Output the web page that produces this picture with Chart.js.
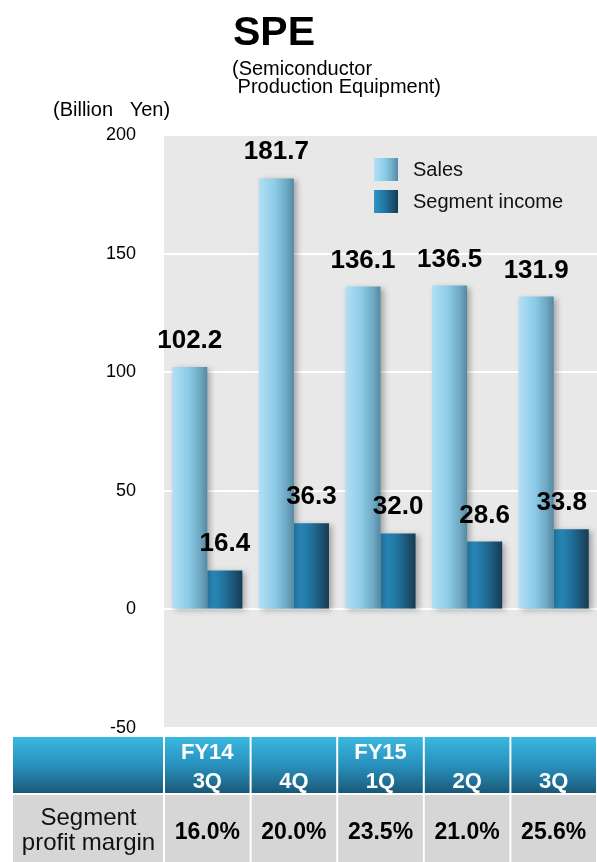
<!DOCTYPE html>
<html>
<head>
<meta charset="utf-8">
<script src="https://cdn.jsdelivr.net/npm/chart.js@4.4.1/dist/chart.umd.min.js"></script>
<style>
  html, body { margin: 0; padding: 0; background: #fff; overflow: hidden; }
  #wrap { position: relative; width: 597px; height: 862px; }
</style>
</head>
<body>
<div id="wrap"><canvas id="spe-chart" width="597" height="862"></canvas></div>
<script>
var quarters = [['FY14', '3Q'], ['4Q'], ['FY15', '1Q'], ['2Q'], ['3Q']];
var sales = [102.2, 181.7, 136.1, 136.5, 131.9];
var segment_income = [16.4, 36.3, 32.0, 28.6, 33.8];
var profit_margin = [16.0, 20.0, 23.5, 21.0, 25.6];
var y_ticks = [-50, 0, 50, 100, 150, 200];
var series_names = ['Sales', 'Segment income'];
var title_text = 'SPE';
var subtitle_lines = ['(Semiconductor', ' Production Equipment)'];
var unit_text = '(Billion   Yen)';
var margin_label = ['Segment', 'profit margin'];

var FONT = 'Arial, "Liberation Sans", sans-serif';
var sales_stops = [[0, '#b2e0f4'], [0.45, '#8dcce8'], [0.8, '#6ea7c1'], [1, '#5489a2']];
var income_stops = [[0, '#2c96ca'], [0.5, '#20709a'], [1, '#173b53']];

function hGradient(ctx, x0, x1, stops) {
  var g = ctx.createLinearGradient(x0, 0, x1, 0);
  stops.forEach(function (s) { g.addColorStop(s[0], s[1]); });
  return g;
}

var spePlugin = {
  id: 'speDecor',
  beforeDraw: function (chart) {
    var c = chart.ctx, a = chart.chartArea;
    c.save();
    c.fillStyle = '#e8e8e8';
    c.fillRect(a.left, a.top, a.right - a.left, a.bottom - a.top);
    c.restore();
  },
  beforeDatasetsDraw: function (chart) {
    var c = chart.ctx;
    chart.data.datasets.forEach(function (ds, di) {
      var stops = di === 0 ? sales_stops : income_stops;
      chart.getDatasetMeta(di).data.forEach(function (bar) {
        bar.options.backgroundColor = hGradient(c, bar.x - bar.width / 2, bar.x + bar.width / 2, stops);
      });
    });
    // soft shadow behind the bars
    c.save();
    c.shadowColor = 'rgba(0,0,0,0.3)';
    c.shadowBlur = 6;
    c.shadowOffsetX = 3;
    c.shadowOffsetY = 2;
  },
  afterDatasetsDraw: function (chart) {
    var c = chart.ctx, a = chart.chartArea;
    c.restore();
    c.save();
    c.font = 'bold 26px ' + FONT;
    c.fillStyle = '#000';
    c.textAlign = 'center';
    c.textBaseline = 'alphabetic';
    chart.data.datasets.forEach(function (ds, di) {
      chart.getDatasetMeta(di).data.forEach(function (bar, i) {
        var txt = ds.data[i].toFixed(1);
        var w = c.measureText(txt).width;
        // keep labels from running off the right edge
        var x = Math.min(bar.x, a.right - 10 - w / 2);
        c.fillText(txt, x, bar.y - 19);
      });
    });
    c.restore();
  },
  afterDraw: function (chart) {
    var c = chart.ctx, a = chart.chartArea, xs = chart.scales.x;
    c.save();

    // titles
    c.fillStyle = '#000';
    c.textAlign = 'left';
    c.textBaseline = 'alphabetic';
    c.font = 'bold 41px ' + FONT;
    c.fillText(title_text, 233, 45);
    c.font = '20px ' + FONT;
    c.fillText(subtitle_lines[0], 232, 75);
    c.fillText(subtitle_lines[1], 232, 93);
    c.fillText(unit_text, 53, 116);

    // legend
    var ly = [158, 190];
    series_names.forEach(function (name, i) {
      c.fillStyle = hGradient(c, 374, 398, i === 0 ? sales_stops : income_stops);
      c.fillRect(374, ly[i], 24, 23);
      c.fillStyle = '#111';
      c.font = '20px ' + FONT;
      c.textBaseline = 'middle';
      c.fillText(name, 413, ly[i] + 12);
    });

    // table under the chart
    var headTop = 737, headBot = 793, rowTop = 795, rowBot = 862;
    var half = (xs.getPixelForTick(1) - xs.getPixelForTick(0)) / 2;
    var hg = c.createLinearGradient(0, headTop, 0, headBot);
    hg.addColorStop(0, '#3ab8df');
    hg.addColorStop(0.5, '#2891be');
    hg.addColorStop(0.92, '#1d6384');
    hg.addColorStop(1, '#1a5575');

    var cols = [[13, a.left - 1]];
    quarters.forEach(function (q, i) {
      var cx = xs.getPixelForTick(i);
      cols.push([cx - half + 1, cx + half - 1]);
    });
    cols.forEach(function (col) {
      c.fillStyle = hg;
      c.fillRect(col[0], headTop, col[1] - col[0], headBot - headTop);
      c.fillStyle = '#d6d6d6';
      c.fillRect(col[0], rowTop, col[1] - col[0], rowBot - rowTop);
    });

    c.textAlign = 'center';
    c.textBaseline = 'alphabetic';
    quarters.forEach(function (q, i) {
      var cx = xs.getPixelForTick(i);
      c.fillStyle = '#fff';
      c.font = 'bold 22px ' + FONT;
      if (q.length === 2) {
        c.fillText(q[0], cx, 759);
        c.fillText(q[1], cx, 788);
      } else {
        c.fillText(q[0], cx, 788);
      }
      c.fillStyle = '#000';
      c.font = 'bold 23px ' + FONT;
      c.fillText(profit_margin[i].toFixed(1) + '%', cx, 839);
    });
    c.font = '24px ' + FONT;
    c.fillStyle = '#111';
    var fc = (13 + a.left) / 2;
    c.fillText(margin_label[0], fc, 825);
    c.fillText(margin_label[1], fc, 850);

    c.restore();
  }
};

var canvas = document.getElementById('spe-chart');
var spe_chart = new Chart(canvas, {
  type: 'bar',
  data: {
    labels: quarters.map(function (q) { return q.join(' '); }),
    datasets: [
      {
        label: series_names[0],
        data: sales,
        backgroundColor: function () { return '#8dcce8'; },
        borderWidth: 0
      },
      {
        label: series_names[1],
        data: segment_income,
        backgroundColor: function () { return '#20709a'; },
        borderWidth: 0
      }
    ]
  },
  options: {
    responsive: false,
    animation: false,
    devicePixelRatio: 1,
    layout: { padding: { top: 135, bottom: 134, left: 0, right: 0 } },
    datasets: {
      bar: { categoryPercentage: 0.81, barPercentage: 1.0 }
    },
    scales: {
      x: {
        display: false,
        grid: { display: false }
      },
      y: {
        min: -50,
        max: 200,
        afterBuildTicks: function (scale) {
          scale.ticks = y_ticks.map(function (v) { return { value: v }; });
        },
        afterFit: function (scale) { scale.width = 164; },
        ticks: {
          padding: 28,
          color: '#000',
          font: { size: 18, family: FONT }
        },
        grid: { color: '#ffffff', lineWidth: 2, drawTicks: false },
        border: { display: false }
      }
    },
    plugins: {
      legend: { display: false },
      tooltip: { enabled: false }
    }
  },
  plugins: [spePlugin]
});
</script>
</body>
</html>
